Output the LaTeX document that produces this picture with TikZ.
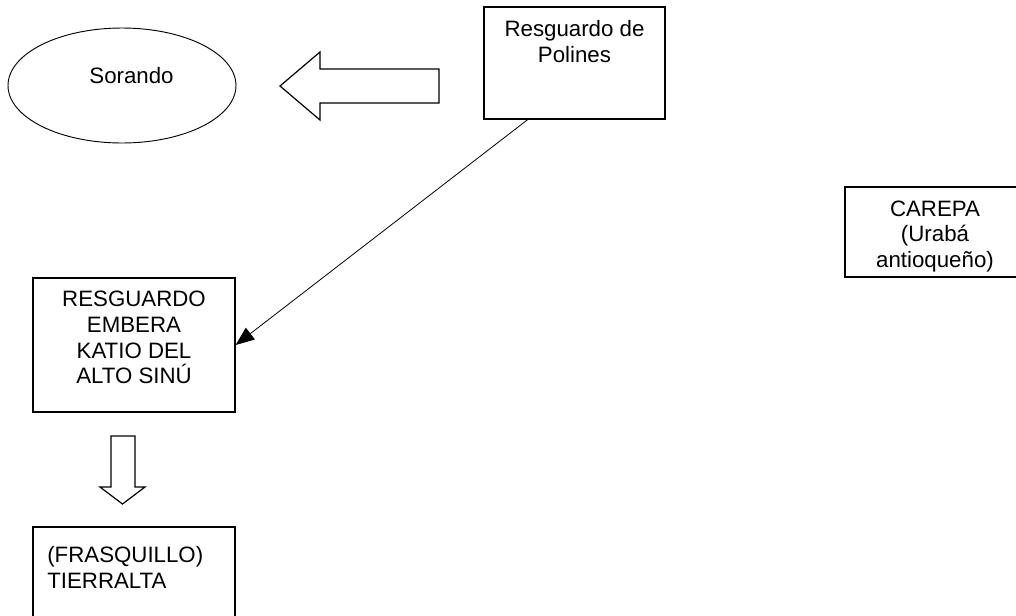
\documentclass[tikz,border=0pt]{standalone}
\usepackage{fontspec}
\setmainfont{Liberation Sans}
\usepackage{tikz}
\usetikzlibrary{shapes.geometric, arrows.meta, positioning, calc}
\newcommand{\placefont}{\fontsize{16.7pt}{19.3pt}\selectfont}
\tikzset{
  place/.style={rectangle,draw=black,line width=0.9pt,inner sep=0pt},
  placering/.style={ellipse,draw=black,line width=0.7pt,inner sep=0pt},
  placetext/.style={inner sep=0pt,align=center,font=\placefont},
  bigarrow/.style={draw=black,line width=0.9pt,fill=white,line join=miter},
  route/.style={line width=0.6pt,-{Triangle[length=14pt,width=11pt]}},
}

\begin{document}
\begin{tikzpicture}[x=0.75pt,y=-0.75pt]
	    \useasboundingbox (0,0) rectangle (1016,615);
	    \clip (0,0) rectangle (1016,615);
	    % places
	    \node[placering,minimum width=171pt,minimum height=86.25pt] (sorando) at (122,85.5) {};
	    \node[placetext,anchor=base] (sorandoText) at (131.5,83) {Sorando};
	    \node[place,minimum width=135.75pt,minimum height=84pt] (polines) at (574.5,63) {};
	    \node[placetext,below=10.5pt of polines.north] (polinesText) {Resguardo de\\Polines};
	    \node[place,minimum width=135pt,minimum height=67.5pt] (carepa) at (935,232) {};
	    \node[placetext,below=10.5pt of carepa.north] (carepaText) {CAREPA\\(Urabá\\antioqueño)};
	    \node[place,minimum width=151.5pt,minimum height=100.5pt] (resguardo) at (134,345) {};
	    \node[placetext,below=10pt of resguardo.north] (resguardoText) {RESGUARDO\\EMBERA\\KATIO DEL\\ALTO SINÚ};
	    \node[place,minimum width=151.5pt,minimum height=97.5pt] (frasquillo) at (134,592) {};
	    \node[placetext,align=left,below right=15pt and 11pt of frasquillo.north west] (frasquilloText) {(FRASQUILLO)\\TIERRALTA};
	    % block arrows
	    \draw[bigarrow] (280,86) -- (320,52) -- (320,69) -- (439,69) -- (439,103) -- (320,103) -- (320,120) -- cycle;
	    \draw[bigarrow] (122.5,504) -- (100,487) -- (111,487) -- (111,436) -- (135,436) -- (135,487) -- (145,487) -- cycle;
	    % connector
	    \draw[route] ($(polines.south west)!0.243!(polines.south east)$) -- (resguardo.east);
	\end{tikzpicture}
\end{document}
